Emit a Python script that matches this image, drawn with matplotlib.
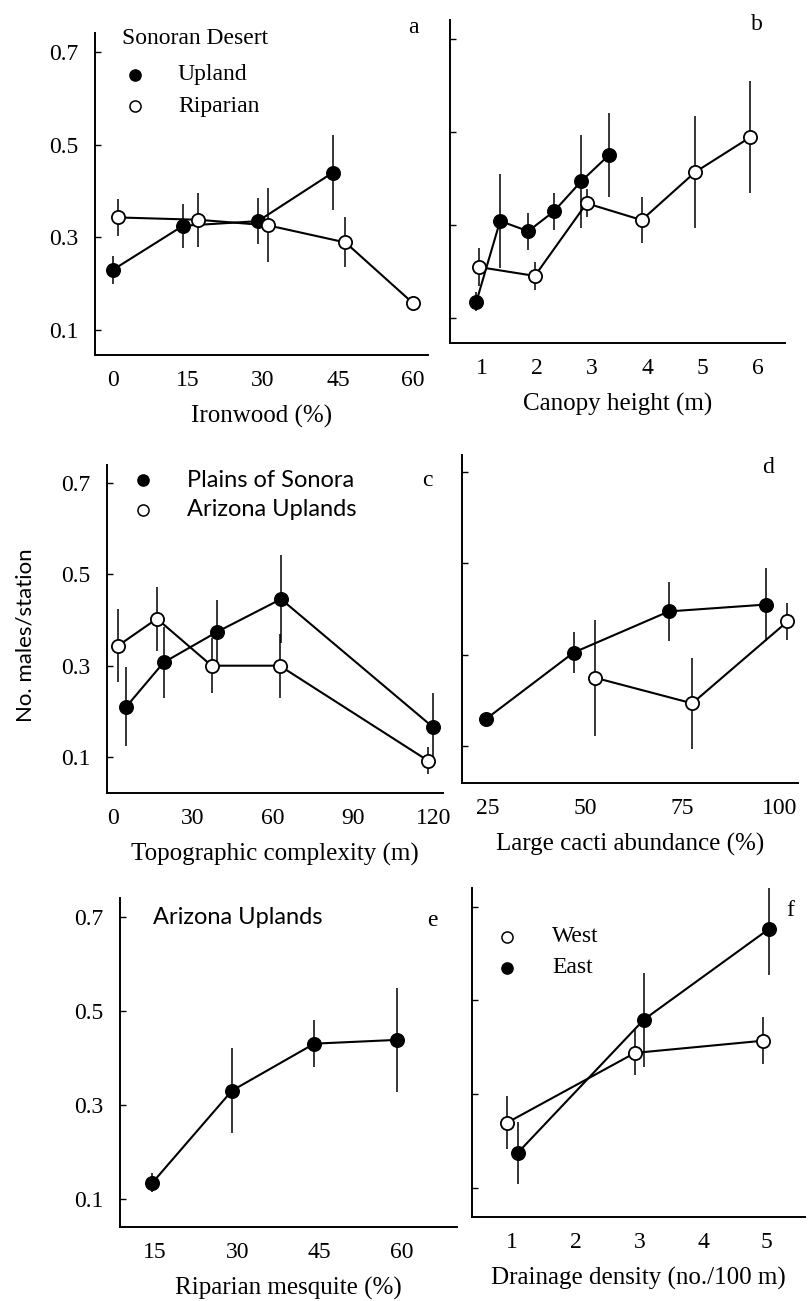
import numpy as np
import matplotlib.pyplot as plt

# panel a: ironwood
a_x_upland = [0, 14, 29, 44]
a_y_upland = [0.23, 0.325, 0.335, 0.44]
a_e_upland = [0.03, 0.047, 0.05, 0.08]
a_x_riparian = [1, 17, 31, 46.5, 60]
a_y_riparian = [0.343, 0.338, 0.326, 0.289, 0.158]
a_e_riparian = [0.04, 0.058, 0.08, 0.054, 0.012]

# panel b: canopy height
b_x_upland = [0.9, 1.33, 1.84, 2.31, 2.8, 3.3]
b_y_upland = [0.135, 0.308, 0.286, 0.329, 0.393, 0.449]
b_e_upland = [0.02, 0.1, 0.04, 0.04, 0.1, 0.09]
b_x_riparian = [0.95, 1.96, 2.9, 3.9, 4.87, 5.87]
b_y_riparian = [0.209, 0.19, 0.346, 0.31, 0.413, 0.488]
b_e_riparian = [0.04, 0.03, 0.03, 0.05, 0.12, 0.12]

# panel c: topographic complexity
c_x_sonora = [5, 19, 39, 63, 120]
c_y_sonora = [0.21, 0.307, 0.374, 0.446, 0.165]
c_e_sonora = [0.087, 0.078, 0.07, 0.096, 0.075]
c_x_arizona = [2, 16.5, 37, 62.5, 118]
c_y_arizona = [0.344, 0.403, 0.3, 0.3, 0.092]
c_e_arizona = [0.08, 0.07, 0.06, 0.07, 0.03]

# panel d: large cacti
d_x_sonora = [24.5, 47, 71.5, 96.5]
d_y_sonora = [0.16, 0.305, 0.395, 0.41]
d_e_sonora = [0.01, 0.045, 0.065, 0.08]
d_x_arizona = [52.5, 77.5, 102]
d_y_arizona = [0.25, 0.194, 0.373]
d_e_arizona = [0.127, 0.1, 0.04]

# panel e: riparian mesquite
e_x = [14.5, 29, 44, 59]
e_y = [0.134, 0.33, 0.43, 0.438]
e_e = [0.02, 0.09, 0.05, 0.11]

# panel f: drainage density
f_x_west = [0.92, 2.93, 4.94]
f_y_west = [0.239, 0.388, 0.414]
f_e_west = [0.057, 0.048, 0.05]
f_x_east = [1.09, 3.07, 5.04]
f_y_east = [0.175, 0.459, 0.653]
f_e_east = [0.066, 0.1, 0.098]

y_ticks = [0.1, 0.3, 0.5, 0.7]
y_ticklabels = ['0.1', '0.3', '0.5', '0.7']

SERIF = 'Liberation Serif'
SANS = 'Lato'

fig = plt.figure(figsize=(8.09, 13.01), dpi=100)


def setup(rect, xlim, ylim, xticks, xlabel, ylabels=True):
    ax = fig.add_axes(rect)
    ax.set_xlim(*xlim)
    ax.set_ylim(*ylim)
    for s in ['top', 'right']:
        ax.spines[s].set_visible(False)
    for s in ['left', 'bottom']:
        ax.spines[s].set_linewidth(1.4)
    ax.set_xticks(xticks)
    ax.set_xticklabels([str(t) for t in xticks], fontsize=17, family=SERIF)
    ax.tick_params(axis='x', length=0, pad=11)
    ax.set_yticks(y_ticks)
    if ylabels:
        ax.set_yticklabels(y_ticklabels, fontsize=17, family=SERIF)
    else:
        ax.set_yticklabels([])
    ax.tick_params(axis='y', direction='in', length=4, width=1, pad=12)
    ax.set_xlabel(xlabel, fontsize=18, family=SERIF, labelpad=10)
    return ax


def series(ax, x, y, err, filled):
    ax.errorbar(x, y, yerr=err, fmt='none', ecolor='black', elinewidth=1.1,
                capsize=0, zorder=2)
    ax.plot(x, y, '-', color='black', lw=1.5, zorder=3)
    ax.plot(x, y, 'o', ms=9.5, mec='black', mew=1.3,
            mfc='black' if filled else 'white', zorder=4)


def key(ax, xm, xt, y, label, filled, family=SERIF):
    ax.plot([xm], [y], 'o', ms=8, mec='black', mew=1.1,
            mfc='black' if filled else 'white',
            transform=ax.transAxes, clip_on=False)
    ax.text(xt, y, label, transform=ax.transAxes, fontsize=17,
            family=family, va='center', ha='left')


# a
ax = setup([0.1174, 0.7271, 0.4116, 0.2475], (-3.6, 63), (0.046, 0.741),
           [0, 15, 30, 45, 60], 'Ironwood (%)')
series(ax, a_x_upland, a_y_upland, a_e_upland, True)
series(ax, a_x_riparian, a_y_riparian, a_e_riparian, False)
ax.text(0.081, 0.984, 'Sonoran Desert', transform=ax.transAxes, fontsize=17,
        family=SERIF, va='center', ha='left')
key(ax, 0.12, 0.249, 0.87, 'Upland', True)
key(ax, 0.12, 0.249, 0.772, 'Riparian', False)

# b
ax = setup([0.5562, 0.7364, 0.4141, 0.2483], (0.42, 6.5), (0.046, 0.74),
           [1, 2, 3, 4, 5, 6], 'Canopy height (m)', ylabels=False)
series(ax, b_x_upland, b_y_upland, b_e_upland, True)
series(ax, b_x_riparian, b_y_riparian, b_e_riparian, False)

# c
ax = setup([0.1323, 0.3905, 0.4153, 0.2521], (-2.2, 123.7), (0.021, 0.74),
           [0, 30, 60, 90, 120], 'Topographic complexity (m)')
series(ax, c_x_sonora, c_y_sonora, c_e_sonora, True)
series(ax, c_x_arizona, c_y_arizona, c_e_arizona, False)
key(ax, 0.107, 0.238, 0.954, 'Plains of Sonora', True, SANS)
key(ax, 0.107, 0.238, 0.863, 'Arizona Uplands', False, SANS)

# d
ax = setup([0.5711, 0.3982, 0.4153, 0.2521], (18.3, 104.7), (0.02, 0.737),
           [25, 50, 75, 100], 'Large cacti abundance (%)', ylabels=False)
series(ax, d_x_sonora, d_y_sonora, d_e_sonora, True)
series(ax, d_x_arizona, d_y_arizona, d_e_arizona, False)

# e
ax = setup([0.1483, 0.0569, 0.4166, 0.2529], (8.6, 70), (0.04, 0.74),
           [15, 30, 45, 60], 'Riparian mesquite (%)')
series(ax, e_x, e_y, e_e, True)
ax.text(0.098, 0.942, 'Arizona Uplands', transform=ax.transAxes, fontsize=17,
        family=SANS, va='center', ha='left')

# f
ax = setup([0.5834, 0.0646, 0.4116, 0.2529], (0.37, 5.6), (0.038, 0.74),
           [1, 2, 3, 4, 5], 'Drainage density (no./100 m)', ylabels=False)
series(ax, f_x_west, f_y_west, f_e_west, False)
series(ax, f_x_east, f_y_east, f_e_east, True)
key(ax, 0.105, 0.24, 0.851, 'West', False)
key(ax, 0.105, 0.24, 0.757, 'East', True)

# panel letters
for letter, px, py in [('a', 0.5105, 0.979), ('b', 0.9357, 0.981),
                       ('c', 0.5278, 0.631), ('d', 0.9493, 0.641),
                       ('e', 0.534, 0.2928), ('f', 0.9765, 0.3005)]:
    fig.text(px, py, letter, fontsize=17, family=SERIF, ha='center', va='center')

fig.text(0.031, 0.512, 'No. males/station', rotation=90, fontsize=16,
         family=SANS, ha='center', va='center')

fig.savefig('out.png', dpi=100)
